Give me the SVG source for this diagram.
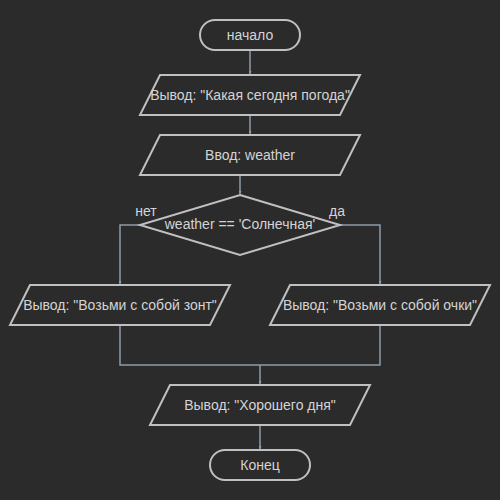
<svg xmlns="http://www.w3.org/2000/svg" width="500" height="500" viewBox="0 0 500 500">
  <style>
    .shape { fill: #2b2b2b; stroke: #c0c0c0; stroke-width: 2; }
    .label { font-family: "Liberation Sans", Arial, sans-serif; font-size: 14px; fill: #d4d4d4; text-anchor: middle; dominant-baseline: central; }
    .edge { fill: none; stroke: #8e9cab; stroke-width: 1.5; }
  </style>
  <defs>
    <marker id="arrow" viewBox="0 0 6 6" refX="6" refY="3" markerWidth="3" markerHeight="3" orient="auto" markerUnits="userSpaceOnUse">
      <path d="M0,0 L6,3 L0,6 z" fill="#8e9cab"/>
    </marker>
  </defs>
  <rect width="500" height="500" fill="#2b2b2b"/>

  <g id="connectors">
    <path class="edge" d="M250,51 V74" marker-end="url(#arrow)"/>
    <path class="edge" d="M250,115 V134" marker-end="url(#arrow)"/>
    <path class="edge" d="M240,175 V194" marker-end="url(#arrow)"/>
    <path class="edge" d="M140,225 H120 V284" marker-end="url(#arrow)"/>
    <path class="edge" d="M340,225 H380 V284" marker-end="url(#arrow)"/>
    <path class="edge" d="M120,325 V365 H380 V325"/>
    <path class="edge" d="M260,365 V384" marker-end="url(#arrow)"/>
    <path class="edge" d="M260,425 V449" marker-end="url(#arrow)"/>
  </g>

  <g id="start">
    <rect class="shape" x="200" y="20" width="100" height="30" rx="15"/>
    <text class="label" x="250" y="35">начало</text>
  </g>
  <g id="ask-output">
    <polygon class="shape" points="160,75 360,75 340,115 140,115"/>
    <text class="label" x="250" y="95">Вывод: "Какая сегодня погода"</text>
  </g>
  <g id="weather-input">
    <polygon class="shape" points="160,135 360,135 340,175 140,175"/>
    <text class="label" x="250" y="155">Ввод: weather</text>
  </g>
  <g id="sunny-check">
    <polygon class="shape" points="240,195 340,225 240,255 140,225"/>
    <text class="label" x="240" y="224">weather == 'Солнечная'</text>
    <text class="label" x="146" y="211">нет</text>
    <text class="label" x="337" y="211">да</text>
  </g>
  <g id="umbrella-output">
    <polygon class="shape" points="30,285 230,285 210,325 10,325"/>
    <text class="label" x="120" y="305">Вывод: "Возьми с собой зонт"</text>
  </g>
  <g id="glasses-output">
    <polygon class="shape" points="290,285 490,285 470,325 270,325"/>
    <text class="label" x="380" y="305">Вывод: "Возьми с собой очки"</text>
  </g>
  <g id="goodday-output">
    <polygon class="shape" points="170,385 370,385 350,425 150,425"/>
    <text class="label" x="260" y="405">Вывод: "Хорошего дня"</text>
  </g>
  <g id="end">
    <rect class="shape" x="210" y="450" width="100" height="30" rx="15"/>
    <text class="label" x="260" y="465">Конец</text>
  </g>
</svg>
